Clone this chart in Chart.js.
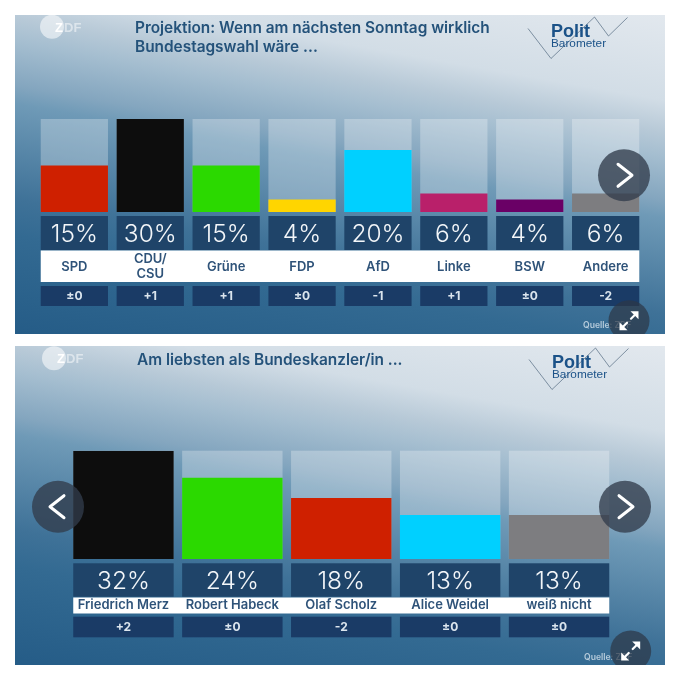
<!DOCTYPE html>
<html lang="de">
<head>
<meta charset="utf-8">
<title>Politbarometer</title>
<script src="https://cdn.jsdelivr.net/npm/chart.js@4"></script>
<style>
html,body{margin:0;padding:0;background:#fff;width:680px;height:680px;overflow:hidden}
canvas{position:absolute;left:15px;display:block;filter:blur(0.4px);
background:linear-gradient(190deg,#e2e8ee 0px,#d2dde6 84px,#b7c9d7 116px,#a5bed0 139px,#84a6bf 182px,#6f9ab7 200px,#3f7298 294px,#336a92 330px,#255c87 427px)}
#c1{top:15px}
#c2{top:346px}
</style>
</head>
<body>
<canvas id="c1" width="650" height="319"></canvas>
<canvas id="c2" width="650" height="319"></canvas>
<script>
const parties = ['SPD', ['CDU/', 'CSU'], 'Grüne', 'FDP', 'AfD', 'Linke', 'BSW', 'Andere'];
const partyValues = [15, 30, 15, 4, 20, 6, 4, 6];
const partyChanges = ['±0', '+1', '+1', '±0', '-1', '+1', '±0', '-2'];
const partyColors = ['#cf2000', '#0d0d0d', '#2bd900', '#ffd500', '#00d0ff', '#b9206a', '#6a0066', '#7d7d80'];
const partyTitle = ['Projektion: Wenn am nächsten Sonntag wirklich', 'Bundestagswahl wäre ...'];
const partyMax = 30;

const candidates = ['Friedrich Merz', 'Robert Habeck', 'Olaf Scholz', 'Alice Weidel', 'weiß nicht'];
const candidateValues = [32, 24, 18, 13, 13];
const candidateChanges = ['+2', '±0', '-2', '±0', '±0'];
const candidateColors = ['#0d0d0d', '#2bd900', '#cf2000', '#00d0ff', '#7d7d80'];
const candidateTitle = ['Am liebsten als Bundeskanzler/in ...'];
const candidateMax = 32;

const FONT = 'Inter, "Noto Sans", sans-serif';
const LOGO = '"Liberation Sans", Arial, sans-serif';

function chevron(ctx, x, y, dir) {
  ctx.beginPath();
  ctx.moveTo(x - dir * 7, y - 11);
  ctx.lineTo(x + dir * 7, y);
  ctx.lineTo(x - dir * 7, y + 11);
  ctx.strokeStyle = '#fff';
  ctx.lineWidth = 3;
  ctx.lineJoin = 'round';
  ctx.lineCap = 'round';
  ctx.stroke();
}
function navButton(ctx, x, y, dir) {
  ctx.beginPath();
  ctx.arc(x, y, 26, 0, Math.PI * 2);
  ctx.fillStyle = 'rgba(50,60,75,0.78)';
  ctx.fill();
  chevron(ctx, x + dir, y, dir);
}
function expandButton(ctx, x, y) {
  ctx.beginPath();
  ctx.arc(x, y, 20.5, 0, Math.PI * 2);
  ctx.fillStyle = 'rgba(45,55,70,0.72)';
  ctx.fill();
  ctx.fillStyle = '#fff';
  ctx.strokeStyle = '#fff';
  ctx.lineWidth = 2.2;
  [[1, -1], [-1, 1]].forEach(([sx, sy]) => {
    const ax = x + sx * 9.5, ay = y + sy * 9.5;
    ctx.beginPath();
    ctx.moveTo(ax, ay);
    ctx.lineTo(ax - sx * 8, ay);
    ctx.lineTo(ax, ay - sy * 8);
    ctx.closePath();
    ctx.fill();
    ctx.beginPath();
    ctx.moveTo(ax - sx * 3, ay - sy * 3);
    ctx.lineTo(ax - sx * 7.5, ay - sy * 7.5);
    ctx.stroke();
  });
}

const panelPlugin = {
  id: 'panel',
  beforeDraw(chart, args, o) {
    const ctx = chart.ctx, x = chart.scales.x, base = chart.chartArea.bottom;
    const w = chart.getDatasetMeta(0).data[0].width;
    const n = chart.data.labels.length;
    ctx.save();
    // white name band across all the columns
    ctx.fillStyle = '#fff';
    ctx.fillRect(x.getPixelForValue(0) - w / 2, base + o.band[0], x.getPixelForValue(n - 1) - x.getPixelForValue(0) + w, o.band[1] - o.band[0]);
    for (let i = 0; i < n; i++) {
      const cx = x.getPixelForValue(i);
      ctx.fillStyle = '#1f4469';
      ctx.fillRect(cx - w / 2, base + o.pct[0], w, o.pct[1] - o.pct[0]);
      ctx.fillStyle = '#1a3b66';
      ctx.fillRect(cx - w / 2, base + o.delta[0], w, o.delta[1] - o.delta[0]);
    }
    ctx.restore();
  },
  beforeDatasetsDraw(chart) {
    const ctx = chart.ctx, a = chart.chartArea;
    ctx.save();
    ctx.fillStyle = 'rgba(255,255,255,0.28)';
    chart.getDatasetMeta(0).data.forEach(b => {
      ctx.fillRect(b.x - b.width / 2, a.top, b.width, a.bottom - a.top);
    });
    ctx.restore();
  },
  afterDraw(chart, args, o) {
    const ctx = chart.ctx, x = chart.scales.x, base = chart.chartArea.bottom;
    const vals = chart.data.datasets[0].data;
    ctx.save();
    ctx.textAlign = 'center';
    ctx.textBaseline = 'alphabetic';
    vals.forEach((v, i) => {
      const cx = x.getPixelForValue(i);
      ctx.fillStyle = '#f3f6f9';
      ctx.font = '300 24.5px ' + FONT;
      ctx.fillText(v + '%', cx, base + o.pctBase);
      ctx.fillStyle = '#dbe5ee';
      ctx.font = '700 12px ' + FONT;
      ctx.fillText(o.changes[i], cx, base + o.deltaBase);
    });
    // title
    ctx.textAlign = 'left';
    ctx.fillStyle = '#24527a';
    ctx.font = '600 15.4px ' + FONT;
    o.title.forEach((t, i) => ctx.fillText(t, o.titleX, o.titleY + i * 18.6));

    // ZDF logo
    const [lx, ly] = o.zdf;
    ctx.beginPath();
    ctx.arc(lx, ly, 12, 0, Math.PI * 2);
    ctx.fillStyle = 'rgba(255,255,255,0.55)';
    ctx.fill();
    ctx.font = '700 13px ' + LOGO;
    ctx.fillStyle = '#fff';
    ctx.fillText('Z', lx + 3, ly + 5);
    ctx.fillStyle = 'rgba(255,255,255,0.5)';
    ctx.fillText('DF', lx + 12, ly + 5);

    // Polit Barometer logo
    const [bx, by] = o.baro;
    ctx.beginPath();
    [[-23, -8], [0, 22], [43.5, -19.5], [57.5, -0.5], [76.5, -19]].forEach(([dx, dy], i) => {
      if (i) ctx.lineTo(bx + dx, by + dy); else ctx.moveTo(bx + dx, by + dy);
    });
    ctx.strokeStyle = 'rgba(60,85,110,0.75)';
    ctx.lineWidth = 0.8;
    ctx.stroke();
    ctx.fillStyle = '#1b5288';
    ctx.font = '700 18px ' + LOGO;
    ctx.fillText('Polit', bx, by);
    ctx.font = '400 11.8px ' + LOGO;
    ctx.fillText('Barometer', bx, by + 10.5);

    // source
    ctx.font = '600 8.6px ' + FONT;
    ctx.fillStyle = 'rgba(205,220,232,0.85)';
    ctx.fillText('Quelle: ZDF', o.source[0], o.source[1]);

    // controls
    o.nav.forEach(([nx, ny, d]) => navButton(ctx, nx, ny, d));
    expandButton(ctx, o.expand[0], o.expand[1]);
    ctx.restore();
  }
};

function barPanel(id, labels, values, colors, yMax, bar, pad, xh, tickGap, nameSize, panel) {
  return new Chart(document.getElementById(id), {
    type: 'bar',
    plugins: [panelPlugin],
    data: {
      labels: labels,
      datasets: [{ data: values, backgroundColor: colors, borderWidth: 0, barPercentage: bar, categoryPercentage: 1 }]
    },
    options: {
      responsive: false,
      animation: false,
      layout: { padding: pad, autoPadding: false },
      events: [],
      scales: {
        x: {
          grid: { display: false, drawTicks: true, tickLength: tickGap, tickColor: 'rgba(0,0,0,0)' },
          border: { display: false },
          afterFit: s => { s.height = xh; },
          ticks: {
            autoSkip: false, maxRotation: 0, minRotation: 0, padding: 0, crossAlign: 'center',
            color: '#2f5379',
            font: { family: FONT, weight: '600', size: nameSize, lineHeight: 1.12 }
          }
        },
        y: { display: false, min: 0, max: yMax }
      },
      plugins: { legend: { display: false }, tooltip: { enabled: false }, panel: panel }
    }
  });
}

barPanel('c1', parties, partyValues, partyColors, partyMax, 0.886,
  { left: 21.4, right: 21.4, top: 104, bottom: 42 }, 80, 47.5, 13, {
    changes: partyChanges, title: partyTitle, titleX: 120, titleY: 18.4,
    band: [38.5, 70], pct: [4, 38], delta: [74, 94], pctBase: 29.8, deltaBase: 88,
    zdf: [37, 11.7], baro: [536, 21.5], source: [568, 313],
    nav: [[609, 160.3, 1]], expand: [614, 305.7]
  });

barPanel('c2', candidates, candidateValues, candidateColors, candidateMax, 0.922,
  { left: 54, right: 51.5, top: 104.7, bottom: 46 }, 60, 46.5, 13, {
    changes: candidateChanges, title: candidateTitle, titleX: 122, titleY: 19,
    band: [38.5, 54.5], pct: [4.3, 37.7], delta: [57.7, 78.3], pctBase: 30, deltaBase: 72,
    zdf: [39, 12.3], baro: [537, 21.5], source: [569, 314],
    nav: [[43, 160.7, -1], [610, 160.7, 1]], expand: [615.7, 305]
  });
</script>
</body>
</html>
